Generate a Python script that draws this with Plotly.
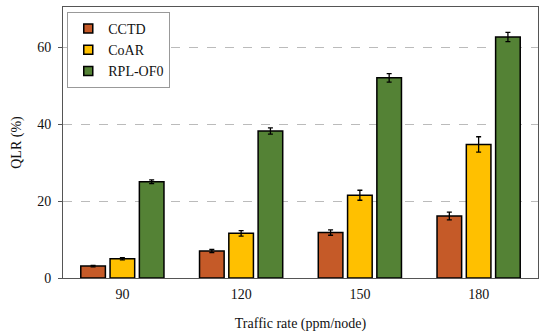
import plotly.graph_objects as go

categories = ["90", "120", "150", "180"]
series_names = ["CCTD", "CoAR", "RPL-OF0"]
cctd = [3.1, 7.0, 11.8, 16.1]
coar = [5.0, 11.6, 21.5, 34.7]
rpl = [25.0, 38.2, 52.0, 62.6]
cctd_err = [0.2, 0.4, 0.7, 1.0]
coar_err = [0.3, 0.7, 1.3, 2.0]
rpl_err = [0.5, 0.8, 1.1, 1.2]
colors = ["#C55A28", "#FFC000", "#548235"]
yticks = [0, 20, 40, 60]

FONT = "Liberation Serif, Times New Roman, serif"

fig = go.Figure()
for name, vals, errs, col in zip(series_names, [cctd, coar, rpl], [cctd_err, coar_err, rpl_err], colors):
    fig.add_trace(go.Bar(
        name=name, x=categories, y=vals, legendgroup=name, showlegend=False,
        marker=dict(color=col, line=dict(color="black", width=1.5)),
        error_y=dict(type="data", array=errs, color="black", thickness=1.3, width=2.5),
    ))
# legend swatches (small bordered squares, linked to the bar series)
for name, col in zip(series_names, colors):
    fig.add_trace(go.Scatter(
        name=name, x=[None], y=[None], mode="markers", legendgroup=name,
        marker=dict(symbol="square", size=9, color=col, line=dict(color="black", width=1.5)),
        showlegend=True,
    ))

fig.update_layout(
    width=550, height=335,
    margin=dict(l=63, r=12, t=7, b=57),
    paper_bgcolor="white", plot_bgcolor="white",
    barmode="group", bargap=0.26, bargroupgap=0.16,
    font=dict(family=FONT, size=14, color="#111"),
    showlegend=True,
    legend=dict(x=0.009, y=0.982, xanchor="left", yanchor="top",
                bordercolor="#999", borderwidth=1, bgcolor="white",
                font=dict(family=FONT, size=14, color="#111"),
                tracegroupgap=0, itemwidth=30),
    xaxis=dict(
        title=dict(text="Traffic rate (ppm/node)", font=dict(family=FONT, size=14), standoff=17),
        automargin=False,
        showline=True, linecolor="#555", linewidth=1, mirror=True,
        ticks="", showgrid=False, ticklabelstandoff=3,
        tickfont=dict(family=FONT, size=14),
    ),
    yaxis=dict(
        title=dict(text="QLR (%)", font=dict(family=FONT, size=14), standoff=12),
        automargin=False,
        range=[0, 70.4], tickvals=yticks,
        showline=True, linecolor="#555", linewidth=1, mirror=True,
        ticks="outside", ticklen=4, tickcolor="#555", ticklabelstandoff=4,
        showgrid=True, gridcolor="#BBBBBB", griddash="dash", gridwidth=1,
        zeroline=False,
        tickfont=dict(family=FONT, size=14),
    ),
)

fig.write_html("out.html", config={"displayModeBar": False},
               post_script="document.body.style.margin='0';")
